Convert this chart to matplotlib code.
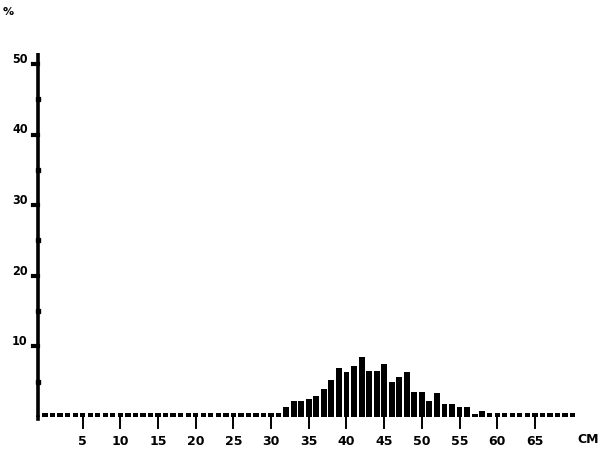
import matplotlib
matplotlib.use('Agg')
import matplotlib.pyplot as plt
import numpy as np

# length classes (cm) and percentage of fish in each
length_cm = [32, 33, 34, 35, 36, 37, 38, 39, 40, 41, 42, 43, 44, 45, 46, 47,
             48, 49, 50, 51, 52, 53, 54, 55, 56, 57, 58]
percent = [1.4, 2.3, 2.3, 2.5, 3.0, 4.0, 5.2, 6.9, 6.4, 7.2, 8.5, 6.5, 6.5,
           7.5, 5.0, 5.7, 6.4, 3.5, 3.5, 2.3, 3.4, 1.8, 1.8, 1.4, 1.4, 0.4, 0.9]
# empty classes are still marked by the plotter with a small dot
empty_cm = [c for c in range(0, 71) if c not in length_cm]
empty_mark = 0.55

x_ticks = [5, 10, 15, 20, 25, 30, 35, 40, 45, 50, 55, 60, 65]
y_ticks = [10, 20, 30, 40, 50]
y_dots = [5, 15, 25, 35, 45]

plt.rcParams['font.family'] = ['DejaVu Sans']

fig = plt.figure(figsize=(5.99, 4.56), dpi=100)
ax = fig.add_axes([0, 0, 1, 1])
ax.set_xlim(-5.97, 73.5)
ax.set_ylim(-5.38, 59.2)
ax.axis('off')

# bars
ax.bar(length_cm, percent, width=0.78, color='black', align='center')
ax.bar(empty_cm, [empty_mark] * len(empty_cm), width=0.7, color='black')

# y axis
ax.plot([-0.93, -0.93], [0, 51.6], color='black', lw=2.6, solid_capstyle='butt')
for v in y_ticks:
    ax.plot([-1.6, -0.93], [v, v], color='black', lw=3)
    ax.text(-2.3, v + 0.8, str(v), ha='right', va='center', fontsize=9,
            fontweight='bold', fontstretch='condensed')
ax.plot([-0.93] * len(y_dots), y_dots, 's', color='black', ms=3.5)

# x ticks
for v in x_ticks:
    ax.plot([v, v], [0, -1.5], color='black', lw=1.4)
    ax.text(v, -3.3, str(v), ha='center', va='center', fontsize=9,
            fontweight='bold')
ax.plot([-0.93, -0.93], [0, -0.3], color='black', lw=2.6)

ax.text(72.0, -3.1, 'CM', ha='center', va='center', fontsize=9, fontweight='bold')
ax.text(-4.9, 57.5, '%', ha='center', va='center', fontsize=8, fontweight='bold')

fig.savefig('out.png', dpi=100, facecolor='white')
